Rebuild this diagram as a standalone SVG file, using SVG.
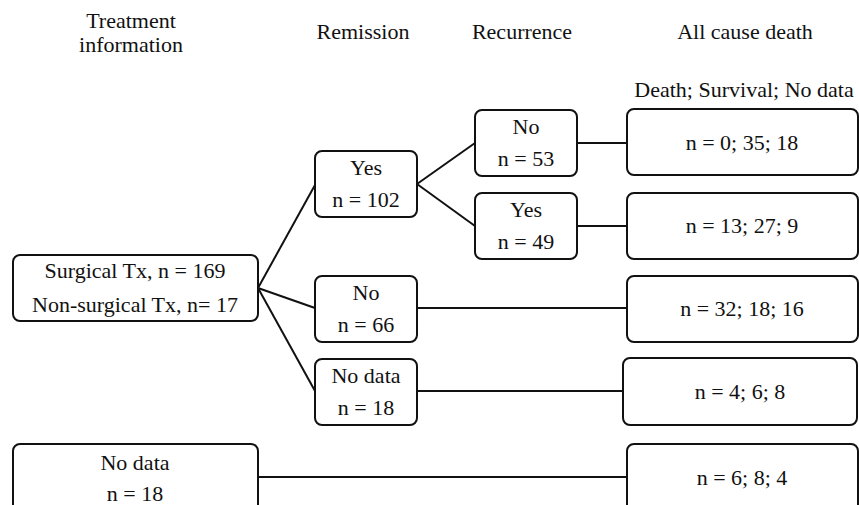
<svg xmlns="http://www.w3.org/2000/svg" width="859" height="505" viewBox="0 0 859 505">
<style>
text{font-family:"Liberation Serif","Times New Roman",serif;font-size:22px;fill:#111;text-anchor:middle}
.box{fill:#fff;stroke:#111;stroke-width:2}
.conn line{stroke:#111;stroke-width:2}
</style>
<rect width="859" height="505" fill="#fff"/>
<g id="headers">
<text x="131" y="28">Treatment</text>
<text x="131" y="52">information</text>
<text x="363" y="39">Remission</text>
<text x="522" y="39">Recurrence</text>
<text x="745" y="39">All cause death</text>
<text x="744" y="97">Death; Survival; No data</text>
</g>
<g class="conn" id="connectors">
<line x1="258" y1="288" x2="315" y2="185"/>
<line x1="258" y1="288" x2="315" y2="308"/>
<line x1="258" y1="288" x2="315" y2="391"/>
<line x1="417" y1="184" x2="475" y2="143"/>
<line x1="417" y1="184" x2="475" y2="226"/>
<line x1="577" y1="143" x2="627" y2="143"/>
<line x1="577" y1="226" x2="627" y2="226"/>
<line x1="417" y1="308" x2="627" y2="308"/>
<line x1="417" y1="391" x2="623" y2="391"/>
<line x1="258" y1="477" x2="627" y2="477"/>
</g>
<g id="treat">
<rect class="box" x="13" y="255" width="245" height="66" rx="7"/>
<text x="135" y="278">Surgical Tx, n = 169</text>
<text x="135" y="312">Non-surgical Tx, n= 17</text>
</g>
<g id="rem-yes">
<rect class="box" x="315" y="151" width="102" height="66" rx="7"/>
<text x="366" y="175">Yes</text>
<text x="366" y="207">n = 102</text>
</g>
<g id="rec-no">
<rect class="box" x="475" y="110" width="102" height="66" rx="7"/>
<text x="526" y="134">No</text>
<text x="526" y="166">n = 53</text>
</g>
<g id="rec-yes">
<rect class="box" x="475" y="193" width="102" height="66" rx="7"/>
<text x="526" y="217">Yes</text>
<text x="526" y="249">n = 49</text>
</g>
<g id="rem-no">
<rect class="box" x="315" y="276" width="102" height="66" rx="7"/>
<text x="366" y="300">No</text>
<text x="366" y="332">n = 66</text>
</g>
<g id="rem-nodata">
<rect class="box" x="315" y="359" width="102" height="66" rx="7"/>
<text x="366" y="383">No data</text>
<text x="366" y="415">n = 18</text>
</g>
<g id="death1">
<rect class="box" x="627" y="109" width="231" height="66" rx="7"/>
<text x="742" y="150">n = 0; 35; 18</text>
</g>
<g id="death2">
<rect class="box" x="627" y="193" width="231" height="66" rx="7"/>
<text x="742" y="233">n = 13; 27; 9</text>
</g>
<g id="death3">
<rect class="box" x="627" y="276" width="231" height="66" rx="7"/>
<text x="742" y="316">n = 32; 18; 16</text>
</g>
<g id="death4">
<rect class="box" x="623" y="358" width="234" height="67" rx="7"/>
<text x="740" y="399">n = 4; 6; 8</text>
</g>
<g id="treat-nodata">
<rect class="box" x="13" y="444" width="245" height="75" rx="7"/>
<text x="135" y="470">No data</text>
<text x="135" y="501">n = 18</text>
</g>
<g id="death5">
<rect class="box" x="627" y="444" width="231" height="75" rx="7"/>
<text x="742" y="485">n = 6; 8; 4</text>
</g>
</svg>
